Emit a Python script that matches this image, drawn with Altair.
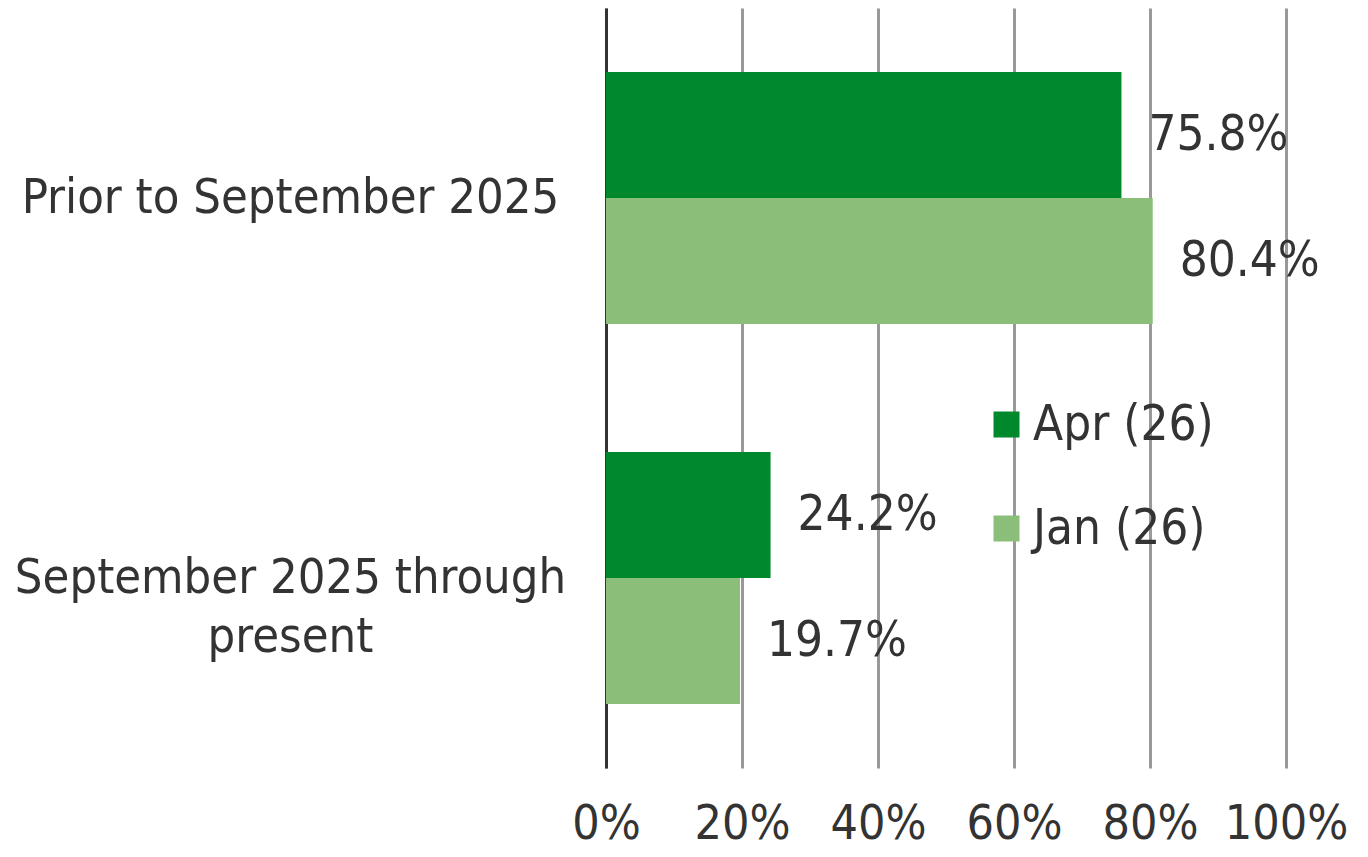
import altair as alt
import pandas as pd

categories = ["Prior to September 2025", "September 2025 through present"]
series = ["Apr (26)", "Jan (26)"]
apr_values = [75.8, 24.2]
jan_values = [80.4, 19.7]
tick_values = [0, 20, 40, 60, 80, 100]
colors = ["#00892C", "#8BBE79"]

rows = []
for i, c in enumerate(categories):
    rows.append({"category": c, "series": series[0], "value": apr_values[i]})
    rows.append({"category": c, "series": series[1], "value": jan_values[i]})
df = pd.DataFrame(rows)

FONT = "DejaVu Sans Condensed, DejaVu Sans, sans-serif"
TXT = "#333333"

y_enc = alt.Y(
    "category:N",
    sort=categories,
    scale=alt.Scale(paddingInner=0.337, paddingOuter=0.1685),
    axis=alt.Axis(
        title=None,
        domain=True,
        domainColor="#333333",
        domainWidth=3,
        ticks=False,
        grid=False,
        labelFont=FONT,
        labelFontSize=48.5,
        labelColor=TXT,
        labelAlign="center",
        labelBaseline="middle",
        labelPadding=316,
        labelLimit=0,
        labelLineHeight=59,
        labelExpr="datum.label == 'September 2025 through present' ? ['September 2025 through', 'present'] : datum.label",
    ),
)
yoff = alt.YOffset("series:N", sort=series)

x_enc = alt.X(
    "value:Q",
    scale=alt.Scale(domain=[0, 100], nice=False),
    axis=alt.Axis(
        title=None,
        values=tick_values,
        grid=True,
        gridColor="#999999",
        gridWidth=3,
        domain=False,
        ticks=False,
        labelFont=FONT,
        labelFontSize=48,
        labelColor=TXT,
        labelBaseline="middle",
        labelPadding=56,
        labelFlush=False,
        labelExpr="datum.value + '%'",
    ),
)

bars = alt.Chart(df).mark_bar(opacity=1).encode(
    x=x_enc,
    y=y_enc,
    yOffset=yoff,
    color=alt.Color(
        "series:N",
        sort=series,
        scale=alt.Scale(domain=series, range=colors),
        legend=alt.Legend(
            title=None,
            orient="none",
            legendX=376,
            legendY=392,
            symbolType="square",
            symbolSize=676,
            symbolStrokeWidth=0,
            labelFont=FONT,
            labelFontSize=49,
            labelColor=TXT,
            labelOffset=2,
            labelLimit=0,
            rowPadding=54,
            padding=0,
        ),
    ),
)

labels = alt.Chart(df).transform_calculate(
    lbl="format(datum.value, '.1f') + '%'"
).mark_text(
    align="left", baseline="middle", dx=27, font=FONT, fontSize=49, color=TXT
).encode(
    x="value:Q",
    y=alt.Y("category:N", sort=categories),
    yOffset=yoff,
    text="lbl:N",
)

chart = alt.layer(bars, labels).properties(
    width=680,
    height=760,
    autosize=alt.AutoSizeParams(type="none"),
    padding={"left": 598, "top": 0, "right": 70, "bottom": 81},
).configure_view(stroke=None).configure_axis(zindex=1)

chart.save("out.html", embed_options={"renderer": "svg", "actions": False})
